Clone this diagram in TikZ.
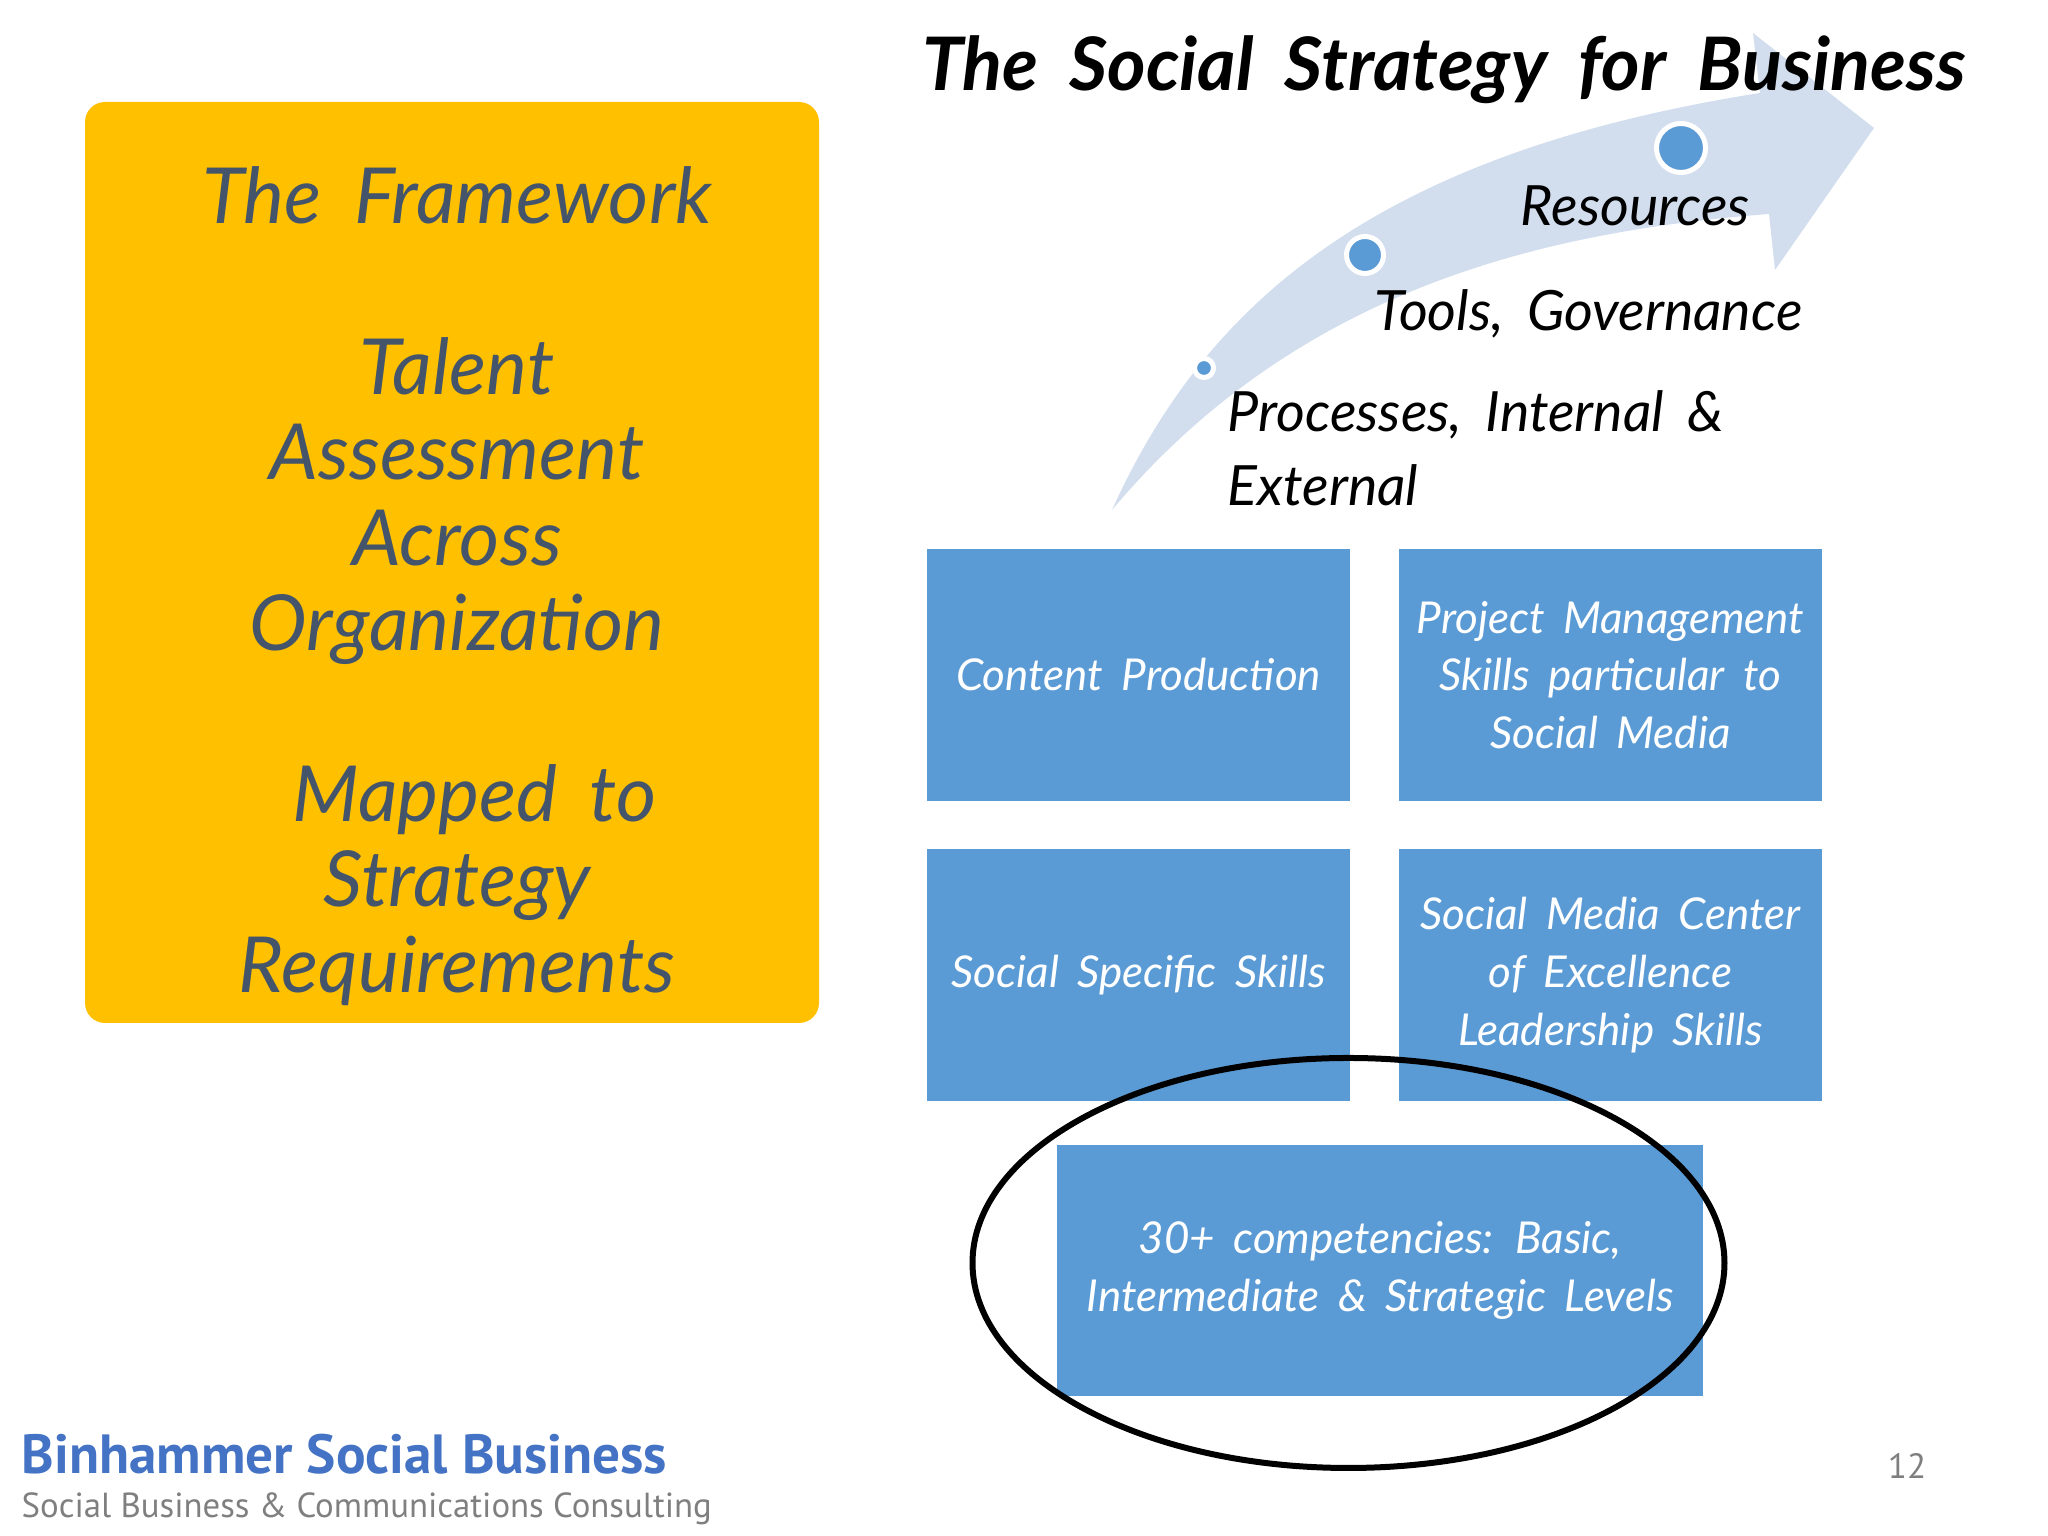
\documentclass[tikz,border=0pt]{standalone}
\usepackage{fontspec}
\setmainfont{Lato}
\newfontfamily\footfont{PT Sans}
\usepackage{xcolor}
\definecolor{panelorange}{HTML}{FFC000}
\definecolor{paneltext}{HTML}{44546A}
\definecolor{boxblue}{HTML}{5B9BD5}
\definecolor{arrowblue}{HTML}{D2DEEE}
\definecolor{footblue}{HTML}{4472C4}
\definecolor{footgray}{HTML}{7F7F7F}
\newcommand{\widewords}{\spaceskip 0.42em\relax}

\begin{document}
\begin{tikzpicture}
\tikzstyle{skill} =[rectangle, fill = boxblue, inner sep=0pt, minimum width=4.23cm, minimum height=2.52cm, align=center, text=white, font=\itshape\fontsize{12.5}{16.4}\selectfont\widewords]
\tikzstyle{stage} =[anchor=west, inner sep=0pt, align=left, text=black, font=\itshape\fontsize{15.8}{21}\selectfont\widewords]
\tikzstyle{dot} =[circle, fill = boxblue, draw = white, line width=0.5mm, inner sep=0pt]

\useasboundingbox (0,0) rectangle (20.48,15.36);

\node[rectangle, rounded corners=0.2cm, fill = panelorange, minimum width=7.34cm, minimum height=9.21cm, inner sep=0pt](panel) at (4.52,9.735){};
\node[align=center, inner sep=0pt, text=paneltext, font=\itshape\fontsize{22}{24.3}\selectfont\widewords](paneltext) at (4.57,9.50){The Framework\\[24.3pt]Talent\\Assessment\\Across\\Organization\\[24.3pt]\hspace{0.35cm}Mapped to\\Strategy\\Requirements};

\fill[arrowblue] (11.12,10.26) .. controls (12.00,12.20) and (13.60,13.80) .. (17.60,14.43)
  -- (17.53,15.03) -- (18.74,14.08) -- (17.75,12.66) -- (17.69,13.22)
  .. controls (15.50,13.05) and (13.00,12.50) .. cycle;

\node[inner sep=0pt, text=black, font=\bfseries\itshape\fontsize{21}{24}\selectfont\widewords](title) at (14.44,14.66){The Social Strategy for Business};

\node[dot, minimum size=0.19cm](dot1) at (12.04,11.68){};
\node[dot, minimum size=0.37cm](dot2) at (13.65,12.81){};
\node[dot, minimum size=0.49cm](dot3) at (16.81,13.88){};

\node[stage](resources) at (15.20,13.30){Resources};
\node[stage](tools) at (13.74,12.22){Tools, Governance};
\node[stage](processes) at (12.27,10.88){Processes, Internal \&\\External};

\node[skill](box1) at (11.385,8.61){Content Production};
\node[skill](box2) at (16.105,8.61){Project Management\\Skills particular to\\Social Media};
\node[skill](box3) at (11.385,5.61){Social Specific Skills};
\node[skill](box4) at (16.105,5.61){Social Media Center\\of Excellence\\Leadership Skills};
\node[skill, minimum width=6.46cm, minimum height=2.51cm](box5) at (13.80,2.655){30+ competencies: Basic,\\Intermediate \& Strategic Levels};

\draw[line width=0.6mm] (13.485,2.73) ellipse [x radius=3.76cm, y radius=2.05cm];

\node[anchor=west, inner sep=0pt, text=footblue, font=\footfont\bfseries\fontsize{15.7}{18}\selectfont](brand) at (0.21,0.82){Binhammer Social Business};
\node[anchor=west, inner sep=0pt, text=footgray, font=\footfont\fontsize{9.9}{13}\selectfont](tagline) at (0.21,0.27){Social Business \& Communications Consulting};
\node[inner sep=0pt, text=footgray, font=\footfont\fontsize{10}{12}\selectfont](pagenum) at (19.07,0.70){12};
\end{tikzpicture}
\end{document}
